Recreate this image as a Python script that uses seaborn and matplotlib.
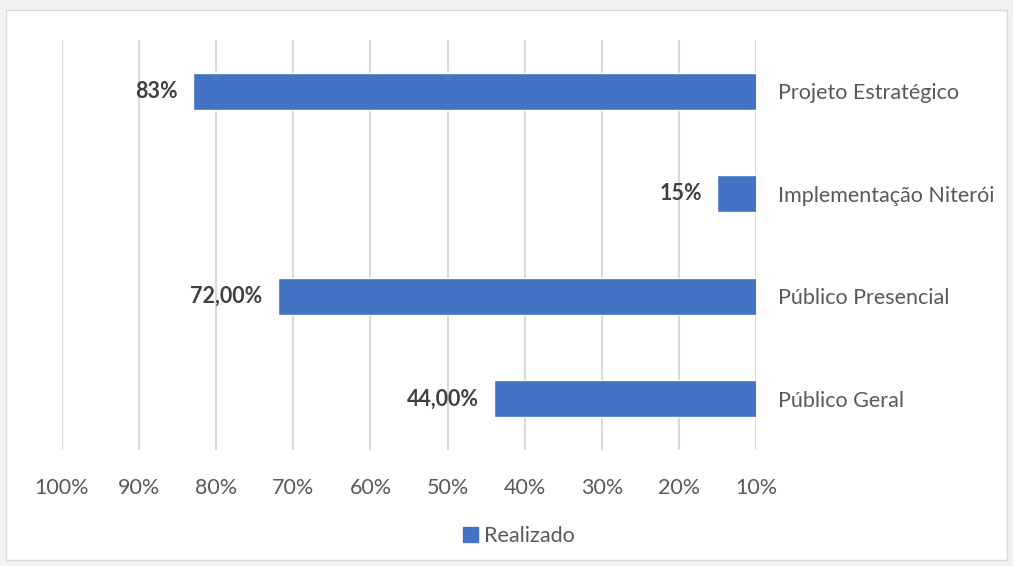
import matplotlib
matplotlib.use("Agg")
import matplotlib.pyplot as plt
import matplotlib.patches as mpatches
import seaborn as sns
import pandas as pd

categorias = ["Projeto Estratégico", "Implementação Niterói", "Público Presencial", "Público Geral"]
realizado = [83, 15, 72, 44]
rotulos = ["83%", "15%", "72,00%", "44,00%"]
ticks_x = [100, 90, 80, 70, 60, 50, 40, 30, 20, 10]

df = pd.DataFrame({"categoria": categorias, "valor": realizado})

sns.set_style("white")
plt.rcParams['font.family'] = ['Lato', 'DejaVu Sans']
fs = 15.5

fig = plt.figure(figsize=(10.13, 5.66), dpi=100)
fig.patch.set_facecolor("#f2f2f2")
# moldura branca do gráfico
moldura = mpatches.Rectangle((6/1013, 6/566), 1001/1013, 550/566, transform=fig.transFigure,
                             facecolor="white", edgecolor="#d9d9d9", linewidth=1, zorder=-10)
fig.add_artist(moldura)

ax = fig.add_axes([62/1013, 1-450/566, 694/1013, 410/566])
ax.set_facecolor("none")
sns.barplot(data=df, x="valor", y="categoria", orient="h", color="#4472C4", saturation=1,
            width=0.36, ax=ax, zorder=3)

ax.set_xlim(100, 10)
ax.set_ylim(3.5, -0.5)
ax.set_xticks(ticks_x)
ax.set_xticklabels([f"{t}%" for t in ticks_x], fontsize=fs, color="#595959")
ax.tick_params(axis="x", length=0, pad=20)
ax.yaxis.tick_right()
ax.tick_params(axis="y", length=0, pad=16, labelsize=fs, labelcolor="#595959")
for lab in ax.get_yticklabels():
    lab.set_horizontalalignment("left")
ax.grid(axis="x", color="#d9d9d9", linewidth=1.5, zorder=0)
ax.set_axisbelow(True)
for s in ax.spines.values():
    s.set_visible(False)
ax.set_xlabel("")
ax.set_ylabel("")

for i, (v, r) in enumerate(zip(realizado, rotulos)):
    ax.annotate(r, (v, i), xytext=(-11, 0), textcoords="offset points", ha="right", va="center",
                fontsize=fs, fontweight="bold", color="#404040")

handle = mpatches.Patch(color="#4472C4", label="Realizado")
fig.legend(handles=[handle], loc="center", bbox_to_anchor=(519/1013, 1-536/566), frameon=False,
           fontsize=fs, labelcolor="#595959", handlelength=0.7, handleheight=0.7, handletextpad=0.25)

fig.savefig("out.png", dpi=100, facecolor=fig.get_facecolor())
